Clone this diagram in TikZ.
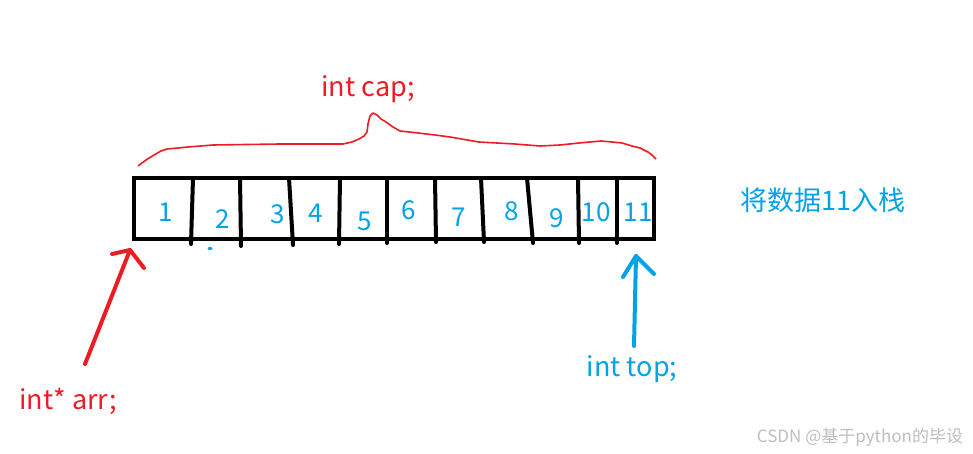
\documentclass[tikz,border=0pt]{standalone}
\usepackage{fontspec}
\setmainfont{Noto Sans CJK SC}
\definecolor{pred}{RGB}{237,28,36}
\definecolor{pblue}{RGB}{0,162,232}
\definecolor{wmgray}{RGB}{190,190,190}
\begin{document}
\begin{tikzpicture}[x=1pt,y=-1pt,
  redpen/.style={draw=pred,line width=4,line cap=round,line join=round},
  bluepen/.style={draw=pblue,line width=4,line cap=round,line join=round},
  divider/.style={draw=black,line width=4,line cap=round},
  num/.style={text=pblue,font=\fontsize{26}{30}\selectfont,inner sep=0},
  lbl/.style={font=\fontsize{27}{32}\selectfont,inner sep=0}]
\useasboundingbox (0,0) rectangle (973,454);
% array box
\node[draw=black,line width=4,minimum width=520,minimum height=61,inner sep=0] (box) at (394,208.5) {};
% dividers
\draw[divider] (193,178) -- (191,244);
\draw[divider] (240,178) -- (241,246);
\draw[divider] (289,178) -- (293,245);
\draw[divider] (340,178) -- (339,244);
\draw[divider] (387,178) -- (387,243);
\draw[divider] (435,178) -- (436,242);
\draw[divider] (481,178) -- (484,242);
\draw[divider] (527,178) -- (533,243);
\draw[divider] (578,178) -- (579,243);
\draw[divider] (617,178) -- (617,243);
% numbers
\node[num] (n1) at (166,212) {1};
\node[num] (n2) at (223,219) {2};
\node[num] (n3) at (278,214) {3};
\node[num] (n4) at (316,213) {4};
\node[num] (n5) at (365,221) {5};
\node[num] (n6) at (409,210) {6};
\node[num] (n7) at (459,217) {7};
\node[num] (n8) at (512,211) {8};
\node[num] (n9) at (557,218) {9};
\node[num] (n10) at (596,212) {10};
\node[num] (n11) at (638,212) {11};
% brace
\draw[pred,line width=1.6,line join=round]
  (138,166) -- (146,160) -- (154,155) -- (161,151) -- (167,149) -- (178,148) -- (188,147)
  -- (213,145) -- (280,144) -- (343,144) -- (352,142) -- (359,139) -- (364,136) -- (367,132)
  -- (368,124) -- (370,116) -- (373,113) -- (377,115) -- (381,119) -- (386,122) -- (393,127)
  -- (400,131) -- (418,133) -- (435,135) -- (450,137) -- (479,142) -- (515,144) -- (540,146)
  -- (560,145) -- (579,143) -- (601,141) -- (612,142) -- (622,143) -- (632,146) -- (640,148)
  -- (648,152) -- (652,155) -- (656,159);
\node[lbl,text=pred] (cap) at (368,89) {int cap;};
% red arrow
\node[lbl,text=pred] (arr) at (68,401) {int* arr;};
\coordinate (rtail) at (85,364);
\coordinate (rtip) at (130,250);
\draw[redpen] (rtail) -- (rtip);
\draw[redpen] ([shift={(-18,4)}]rtip) -- (rtip) -- ([shift={(14,18)}]rtip);
% blue arrow
\node[lbl,text=pblue] (top) at (632,369) {int top;};
\coordinate (btail) at (634,346);
\coordinate (btip) at (636,256);
\draw[bluepen] (btail) -- (btip);
\draw[bluepen] ([shift={(-13,21)}]btip) -- (btip) -- ([shift={(18,18)}]btip);
% small blue mark
\fill[pblue] (210,248.5) ellipse [x radius=2.5, y radius=1.5];
% caption
\node[lbl,text=pblue] (push) at (823,200) {将数据11入栈};
% watermark
\node[text=wmgray,font=\fontsize{17}{20}\selectfont,inner sep=0] (wm) at (860,437) {CSDN @基于python的毕设};
\end{tikzpicture}
\end{document}
